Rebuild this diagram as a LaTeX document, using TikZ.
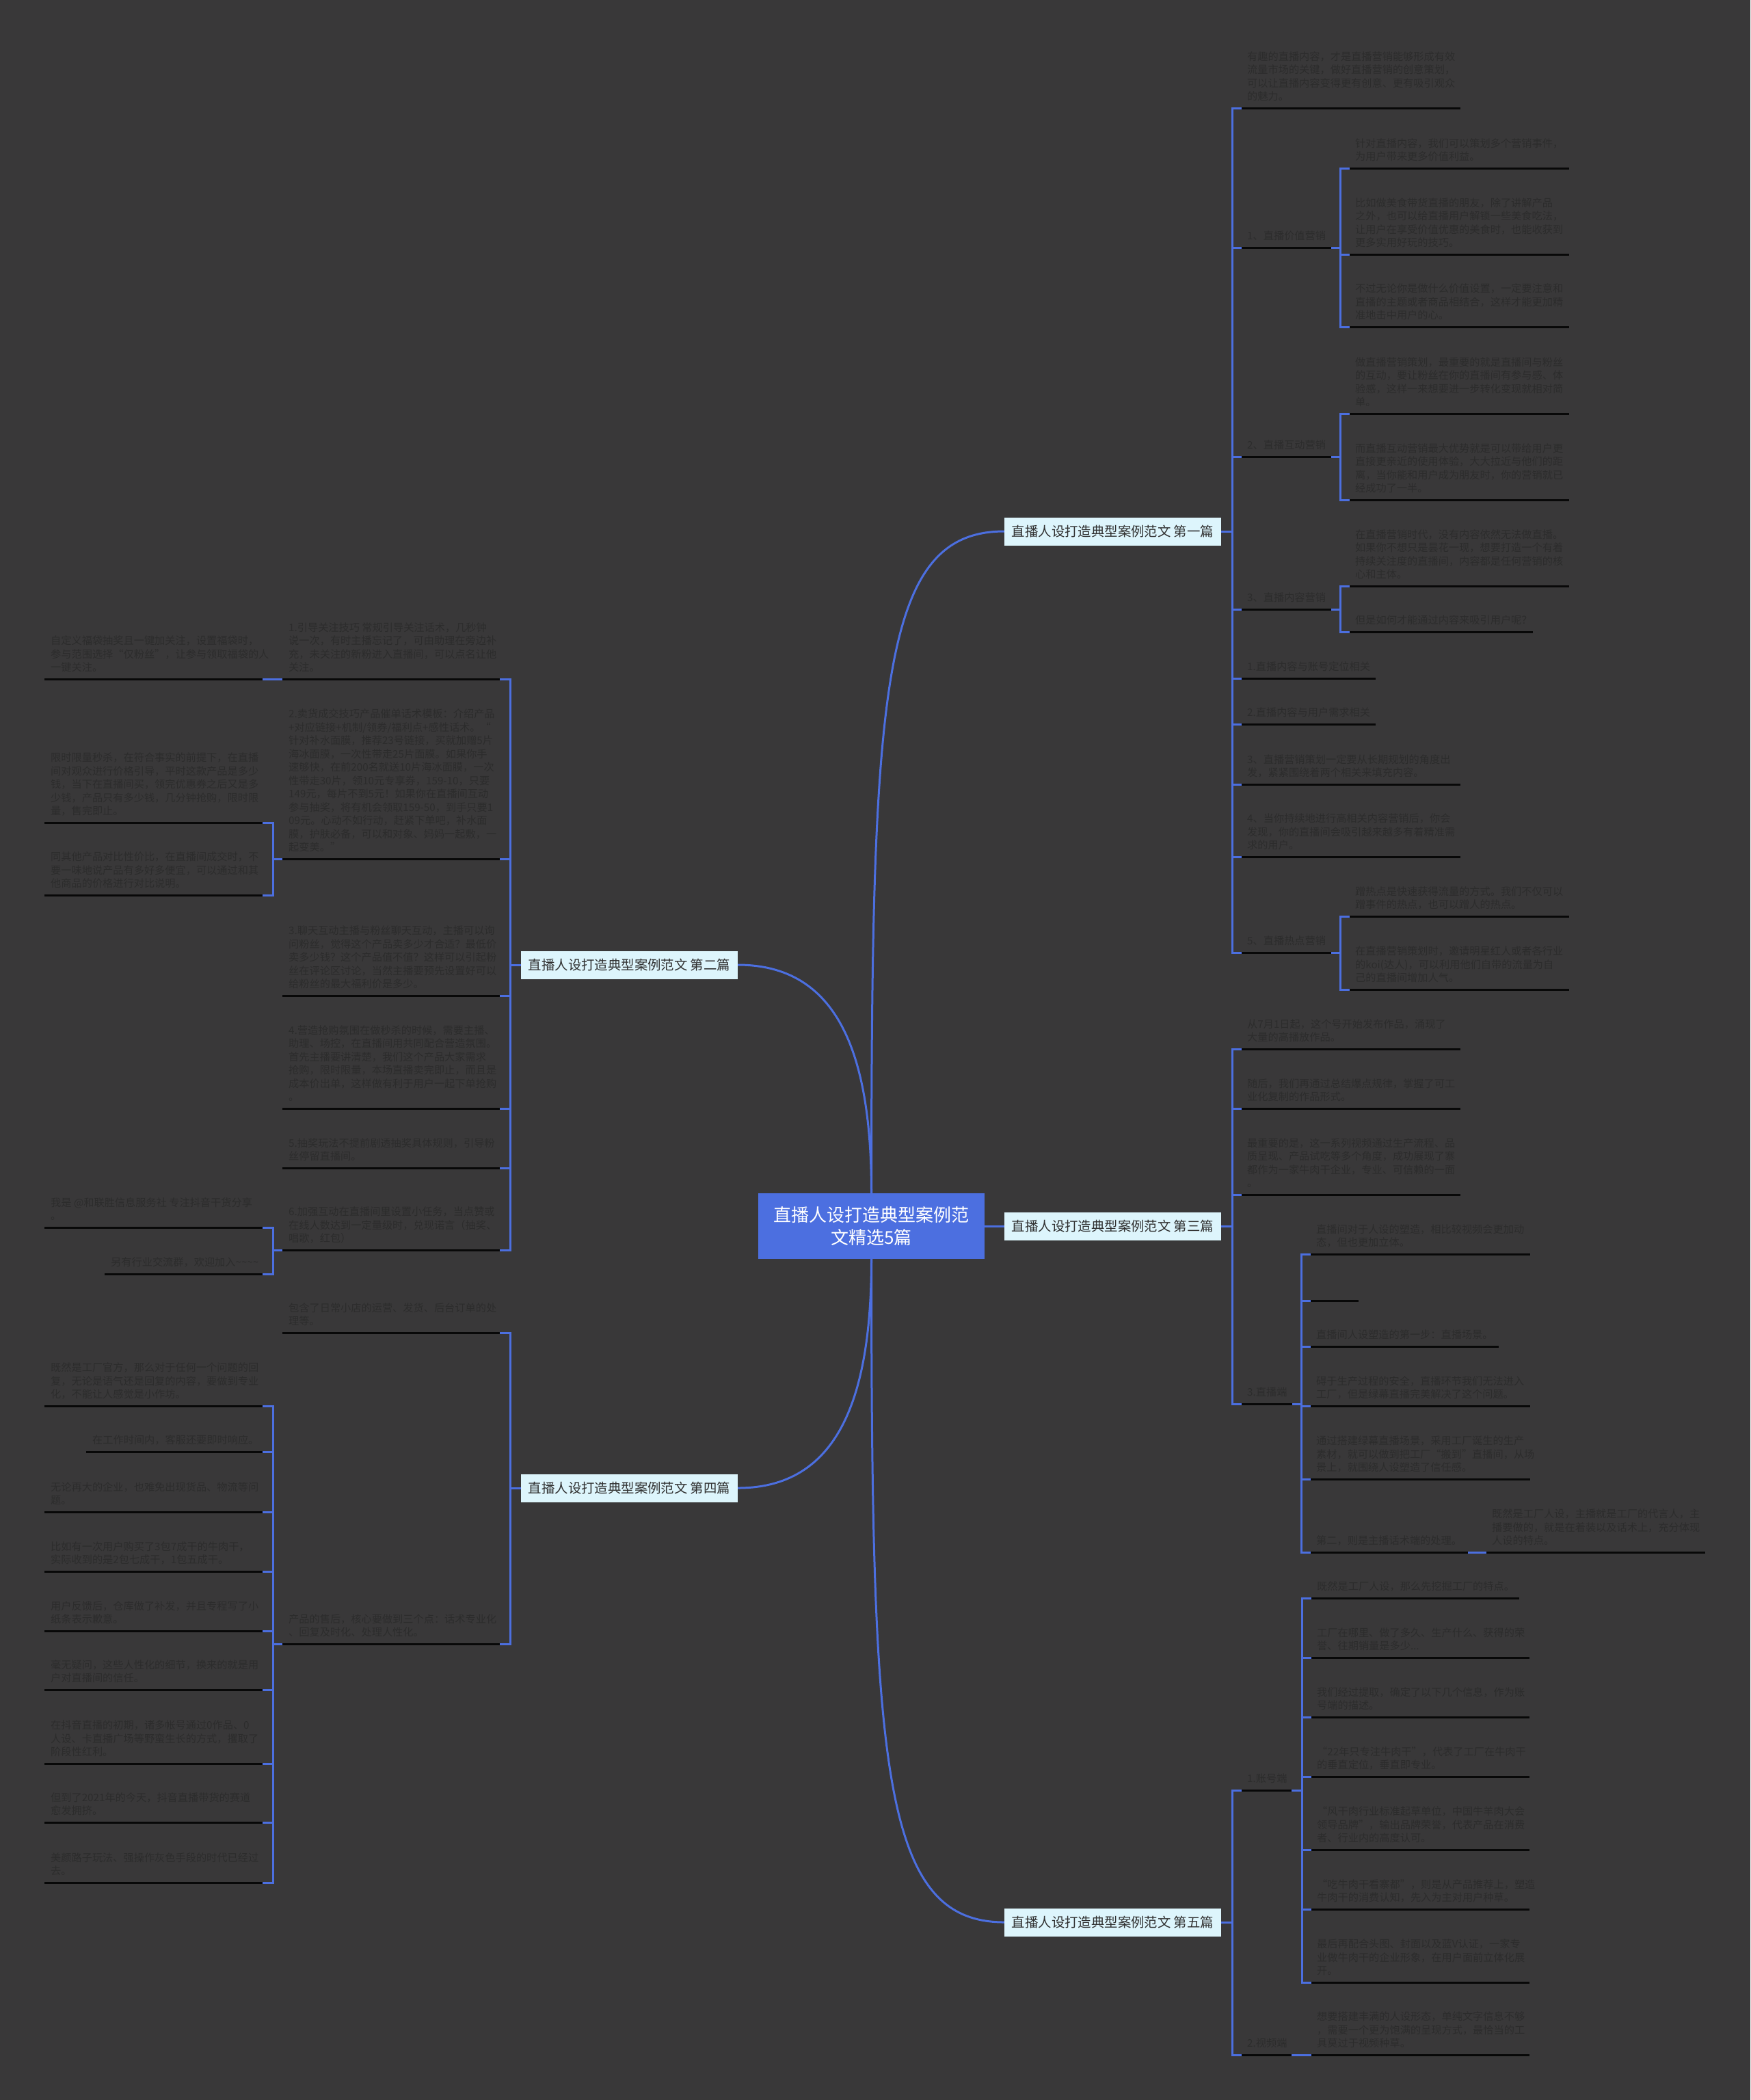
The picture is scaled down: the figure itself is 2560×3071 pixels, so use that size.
\documentclass[tikz,border=0pt]{standalone}
\usepackage{fontspec}
\setmainfont{Noto Sans CJK SC}
\definecolor{bgc}{RGB}{57,56,57}
\definecolor{mblue}{RGB}{76,111,224}
\definecolor{lonefill}{RGB}{221,245,252}
\definecolor{lonetext}{RGB}{48,48,48}
\definecolor{leafc}{RGB}{44,44,44}
\definecolor{ulc}{RGB}{8,8,8}
\newcommand\leaffont{\fontsize{15.2}{19.5}\selectfont}
\tikzset{
  leaf/.style={anchor=south west, inner sep=0pt, align=left, text=leafc, font=\leaffont},
  ul/.style={draw=ulc, line width=3pt},
  tick/.style={draw=mblue, line width=3pt},
  bar/.style={draw=mblue, line width=3pt, line cap=rect},
  link/.style={draw=mblue, line width=3pt},
  lvone/.style={rectangle, fill=lonefill, text=lonetext, inner sep=0pt,
    minimum width=317pt, minimum height=41pt, font=\fontsize{19.4}{23}\selectfont},
  rootbox/.style={rectangle, fill=mblue, text=white, inner sep=0pt, align=center,
    minimum width=331pt, minimum height=96pt, font=\fontsize{26}{33}\selectfont}
}
% right-side leaf: name, bar x, line end x, underline y, text
\newcommand\rleaf[5]{%
  \coordinate (#1-a) at (#2,#4);
  \coordinate (#1-b) at (#2+14,#4);
  \coordinate (#1-c) at (#3,#4);
  \node[leaf] (#1) at (#2+22,#4-7) {#5\rule[-4pt]{0pt}{4pt}};
  \draw[tick] (#1-a) -- (#1-b);
  \draw[ul] (#1-b) -- (#1-c);
}
% left-side leaf: name, bar x, line start x, underline y, text
\newcommand\lleaf[5]{%
  \coordinate (#1-a) at (#2,#4);
  \coordinate (#1-b) at (#2-15,#4);
  \coordinate (#1-s) at (#3,#4);
  \node[leaf] (#1) at (#3+9,#4-7) {#5\rule[-4pt]{0pt}{4pt}};
  \draw[tick] (#1-b) -- (#1-a);
  \draw[ul] (#1-s) -- (#1-b);
}
\begin{document}
\begin{tikzpicture}[x=1pt,y=-1pt]
\fill[bgc] (0,0) rectangle (2560,3071);
\useasboundingbox (0,0) rectangle (2560,3071);

% ---------- central and first-level nodes ----------
\node[rootbox] (root) at (1274.5,1793) {直播人设打造典型案例范\\文精选5篇};
\node[lvone] (n1) at (1627.5,777) {直播人设打造典型案例范文 第一篇};
\node[lvone] (n2) at (920.5,1411) {直播人设打造典型案例范文 第二篇};
\node[lvone] (n3) at (1627.5,1793) {直播人设打造典型案例范文 第三篇};
\node[lvone] (n4) at (920.5,2176) {直播人设打造典型案例范文 第四篇};
\node[lvone] (n5) at (1627.5,2811) {直播人设打造典型案例范文 第五篇};

\draw[link] (root.north) .. controls (1274.5,1000) and (1290,777) .. (n1.west);
\draw[link] (root.north) .. controls (1274.5,1540) and (1225,1411) .. (n2.east);
\draw[link] (root.east) -- (n3.west);
\draw[link] (root.south) .. controls (1274.5,2046) and (1225,2176) .. (n4.east);
\draw[link] (root.south) .. controls (1274.5,2586) and (1290,2811) .. (n5.west);

% ---------- 第一篇 ----------
\rleaf{a1}{1802}{2136}{158}{有趣的直播内容，才是直播营销能够形成有效\\流量市场的关键，做好直播营销的创意策划，\\可以让直播内容变得更有创意、更有吸引观众\\的魅力。}
\rleaf{a2}{1802}{1947}{362}{1、直播价值营销}
\rleaf{a2x}{1960}{2295}{246}{针对直播内容，我们可以策划多个营销事件，\\为用户带来更多价值利益。}
\rleaf{a2y}{1960}{2295}{372}{比如做美食带货直播的朋友，除了讲解产品\\之外，也可以给直播用户解锁一些美食吃法，\\让用户在享受价值优惠的美食时，也能收获到\\更多实用好玩的技巧。}
\rleaf{a2z}{1960}{2295}{478}{不过无论你是做什么价值设置，一定要注意和\\直播的主题或者商品相结合，这样才能更加精\\准地击中用户的心。}
\draw[bar] (a2x-a) -- (a2z-a);
\draw[tick] (a2-c) -- (a2x-a |- a2-c);
\rleaf{a3}{1802}{1947}{668}{2、直播互动营销}
\rleaf{a3x}{1960}{2295}{605}{做直播营销策划，最重要的就是直播间与粉丝\\的互动，要让粉丝在你的直播间有参与感、体\\验感，这样一来想要进一步转化变现就相对简\\单。}
\rleaf{a3y}{1960}{2295}{731}{而直播互动营销最大优势就是可以带给用户更\\直接更亲近的使用体验，大大拉近与他们的距\\离，当你能和用户成为朋友时，你的营销就已\\经成功了一半。}
\draw[bar] (a3x-a) -- (a3y-a);
\draw[tick] (a3-c) -- (a3x-a |- a3-c);
\rleaf{a4}{1802}{1947}{891}{3、直播内容营销}
\rleaf{a4x}{1960}{2295}{857}{在直播营销时代，没有内容依然无法做直播。\\如果你不想只是昙花一现，想要打造一个有着\\持续关注度的直播间，内容都是任何营销的核\\心和主体。}
\rleaf{a4y}{1960}{2242}{924}{但是如何才能通过内容来吸引用户呢？}
\draw[bar] (a4x-a) -- (a4y-a);
\draw[tick] (a4-c) -- (a4x-a |- a4-c);
\rleaf{a5}{1802}{2012}{992}{1.直播内容与账号定位相关}
\rleaf{a6}{1802}{2012}{1059}{2.直播内容与用户需求相关}
\rleaf{a7}{1802}{2136}{1147}{3、直播营销策划一定要从长期规划的角度出\\发，紧紧围绕着两个相关来填充内容。}
\rleaf{a8}{1802}{2136}{1253}{4、当你持续地进行高相关内容营销后，你会\\发现，你的直播间会吸引越来越多有着精准需\\求的用户。}
\rleaf{a9}{1802}{1947}{1393}{5、直播热点营销}
\rleaf{a9x}{1960}{2295}{1340}{蹭热点是快速获得流量的方式。我们不仅可以\\蹭事件的热点，也可以蹭人的热点。}
\rleaf{a9y}{1960}{2295}{1447}{在直播营销策划时，邀请明星红人或者各行业\\的koi(达人)，可以利用他们自带的流量为自\\己的直播间增加人气。}
\draw[bar] (a9x-a) -- (a9y-a);
\draw[tick] (a9-c) -- (a9x-a |- a9-c);
\draw[bar] (a1-a) -- (a9-a);
\draw[tick] (n1.east) -- (a1-a |- n1.east);

% ---------- 第三篇 ----------
\rleaf{c1}{1802}{2136}{1534}{从7月1日起，这个号开始发布作品，涌现了\\大量的高播放作品。}
\rleaf{c2}{1802}{2136}{1621}{随后，我们再通过总结爆点规律，掌握了可工\\业化复制的作品形式。}
\rleaf{c3}{1802}{2136}{1747}{最重要的是，这一系列视频通过生产流程、品\\质呈现、产品试吃等多个角度，成功展现了寨\\都作为一家牛肉干企业，专业、可信赖的一面\\。}
\rleaf{c4}{1802}{1890}{2053}{3.直播端}
\rleaf{c4a}{1903}{2238}{1834}{直播间对于人设的塑造，相比较视频会更加动\\态，但也更加立体。}
\rleaf{c4b}{1903}{1987}{1902}{}
\rleaf{c4c}{1903}{2192}{1969}{直播间人设塑造的第一步：直播场景。}
\rleaf{c4d}{1903}{2238}{2056}{碍于生产过程的安全，直播环节我们无法进入\\工厂，但是绿幕直播完美解决了这个问题。}
\rleaf{c4e}{1903}{2238}{2163}{通过搭建绿幕直播场景，采用工厂诞生的生产\\素材，就可以做到把工厂“搬到”直播间，从场\\景上，就围绕人设塑造了信任感。}
\rleaf{c4f}{1903}{2147}{2270}{第二，则是主播话术端的处理。}
\rleaf{c4g}{2160}{2494}{2270}{既然是工厂人设，主播就是工厂的代言人，主\\播要做的，就是在着装以及话术上，充分体现\\人设的特点。}
\draw[tick] (c4f-c) -- (c4g-a);
\draw[bar] (c4a-a) -- (c4f-a);
\draw[tick] (c4-c) -- (c4a-a |- c4-c);
\draw[bar] (c1-a) -- (c4-a);
\draw[tick] (n3.east) -- (c1-a |- n3.east);

% ---------- 第五篇 ----------
\rleaf{e1}{1802}{1889}{2618}{1.账号端}
\rleaf{e1a}{1904}{2222}{2337}{既然是工厂人设，那么先挖掘工厂的特点。}
\rleaf{e1b}{1904}{2237}{2424}{工厂在哪里、做了多久、生产什么、获得的荣\\誉、往期销量是多少...}
\rleaf{e1c}{1904}{2237}{2511}{我们经过提取，确定了以下几个信息，作为账\\号端的描述。}
\rleaf{e1d}{1904}{2237}{2598}{“22年只专注牛肉干”，代表了工厂在牛肉干\\的垂直定位，垂直即专业。}
\rleaf{e1e}{1904}{2237}{2705}{“风干肉行业标准起草单位，中国牛羊肉大会\\领导品牌”，输出品牌荣誉，代表产品在消费\\者、行业内的高度认可。}
\rleaf{e1f}{1904}{2237}{2792}{“吃牛肉干看寨都”，则是从产品推荐上，塑造\\牛肉干的消费认知，先入为主对用户种草。}
\rleaf{e1g}{1904}{2237}{2899}{最后再配合头图、封面以及蓝V认证，一家专\\业做牛肉干的企业形象，在用户面前立体化展\\开。}
\draw[bar] (e1a-a) -- (e1g-a);
\draw[tick] (e1-c) -- (e1a-a |- e1-c);
\rleaf{e2}{1802}{1889}{3005}{2.视频端}
\rleaf{e2a}{1904}{2237}{3005}{想要搭建丰满的人设形态，单纯文字信息不够\\，需要一个更为饱满的呈现方式，最恰当的工\\具莫过于视频种草。}
\draw[tick] (e2-c) -- (e2a-a);
\draw[bar] (e1-a) -- (e2-a);
\draw[tick] (n5.east) -- (e1-a |- n5.east);

% ---------- 第二篇 ----------
\lleaf{b1}{746}{413}{993}{1.引导关注技巧 常规引导关注话术，几秒钟\\说一次，有时主播忘记了，可由助理在旁边补\\充，未关注的新粉进入直播间，可以点名让他\\关注。}
\lleaf{b1a}{399}{65}{993}{自定义福袋抽奖且一键加关注，设置福袋时，\\参与范围选择“仅粉丝”，让参与领取福袋的人\\一键关注。}
\draw[tick] (b1-s) -- (b1a-a);
\lleaf{b2}{746}{413}{1256}{2.卖货成交技巧产品催单话术模板：介绍产品\\+对应链接+机制/领券/福利点+感性话术。“\\针对补水面膜，推荐23号链接，买就加赠5片\\海冰面膜，一次性带走25片面膜。如果你手\\速够快，在前200名就送10片海冰面膜，一次\\性带走30片，领10元专享券，159-10，只要\\149元，每片不到5元！如果你在直播间互动\\参与抽奖，将有机会领取159-50，到手只要1\\09元。心动不如行动，赶紧下单吧，补水面\\膜，护肤必备，可以和对象、妈妈一起敷，一\\起变美。”}
\lleaf{b2a}{399}{65}{1203}{限时限量秒杀，在符合事实的前提下，在直播\\间对观众进行价格引导，平时这款产品是多少\\钱，当下在直播间买，领完优惠券之后又是多\\少钱，产品只有多少钱，几分钟抢购，限时限\\量，售完即止。}
\lleaf{b2b}{399}{65}{1309}{同其他产品对比性价比，在直播间成交时，不\\要一味地说产品有多好多便宜，可以通过和其\\他商品的价格进行对比说明。}
\draw[bar] (b2a-a) -- (b2b-a);
\draw[tick] (b2-s) -- (b2a-a |- b2-s);
\lleaf{b3}{746}{413}{1456}{3.聊天互动主播与粉丝聊天互动，主播可以询\\问粉丝，觉得这个产品卖多少才合适？最低价\\卖多少钱？这个产品值不值？这样可以引起粉\\丝在评论区讨论，当然主播要预先设置好可以\\给粉丝的最大福利价是多少。}
\lleaf{b4}{746}{413}{1621}{4.营造抢购氛围在做秒杀的时候，需要主播、\\助理、场控，在直播间用共同配合营造氛围。\\首先主播要讲清楚，我们这个产品大家需求\\抢购，限时限量，本场直播卖完即止，而且是\\成本价出单，这样做有利于用户一起下单抢购\\。}
\lleaf{b5}{746}{413}{1708}{5.抽奖玩法不提前剧透抽奖具体规则，引导粉\\丝停留直播间。}
\lleaf{b6}{746}{413}{1828}{6.加强互动在直播间里设置小任务，当点赞或\\在线人数达到一定量级时，兑现诺言（抽奖、\\唱歌，红包）}
\lleaf{b6a}{399}{65}{1795}{我是 @和联胜信息服务社 专注抖音干货分享\\。}
\lleaf{b6b}{399}{153}{1863}{另有行业交流群，欢迎加入\textasciitilde\textasciitilde\textasciitilde\textasciitilde}
\draw[bar] (b6a-a) -- (b6b-a);
\draw[tick] (b6-s) -- (b6a-a |- b6-s);
\draw[bar] (b1-a) -- (b6-a);
\draw[tick] (n2.west) -- (b1-a |- n2.west);

% ---------- 第四篇 ----------
\lleaf{d1}{746}{413}{1949}{包含了日常小店的运营、发货、后台订单的处\\理等。}
\lleaf{d2}{746}{413}{2404}{产品的售后，核心要做到三个点：话术专业化\\、回复及时化、处理人性化。}
\lleaf{d2a}{399}{65}{2056}{既然是工厂官方，那么对于任何一个问题的回\\复，无论是语气还是回复的内容，要做到专业\\化，不能让人感觉是小作坊。}
\lleaf{d2b}{399}{126}{2123}{在工作时间内，客服还要即时响应。}
\lleaf{d2c}{399}{65}{2211}{无论再大的企业，也难免出现货品、物流等问\\题。}
\lleaf{d2d}{399}{65}{2298}{比如有一次用户购买了3包7成干的牛肉干，\\实际收到的是2包七成干，1包五成干。}
\lleaf{d2e}{399}{65}{2385}{用户反馈后，仓库做了补发，并且专程写了小\\纸条表示歉意。}
\lleaf{d2f}{399}{65}{2471}{毫无疑问，这些人性化的细节，换来的就是用\\户对直播间的信任。}
\lleaf{d2g}{399}{65}{2579}{在抖音直播的初期，诸多帐号通过0作品、0\\人设、卡直播广场等野蛮生长的方式，攫取了\\阶段性红利。}
\lleaf{d2h}{399}{65}{2665}{但到了2021年的今天，抖音直播带货的赛道\\愈发拥挤。}
\lleaf{d2i}{399}{65}{2753}{美颜路子玩法、强操作灰色手段的时代已经过\\去。}
\draw[bar] (d2a-a) -- (d2i-a);
\draw[tick] (d2-s) -- (d2a-a |- d2-s);
\draw[bar] (d1-a) -- (d2-a);
\draw[tick] (n4.west) -- (d1-a |- n4.west);
\end{tikzpicture}
\end{document}
